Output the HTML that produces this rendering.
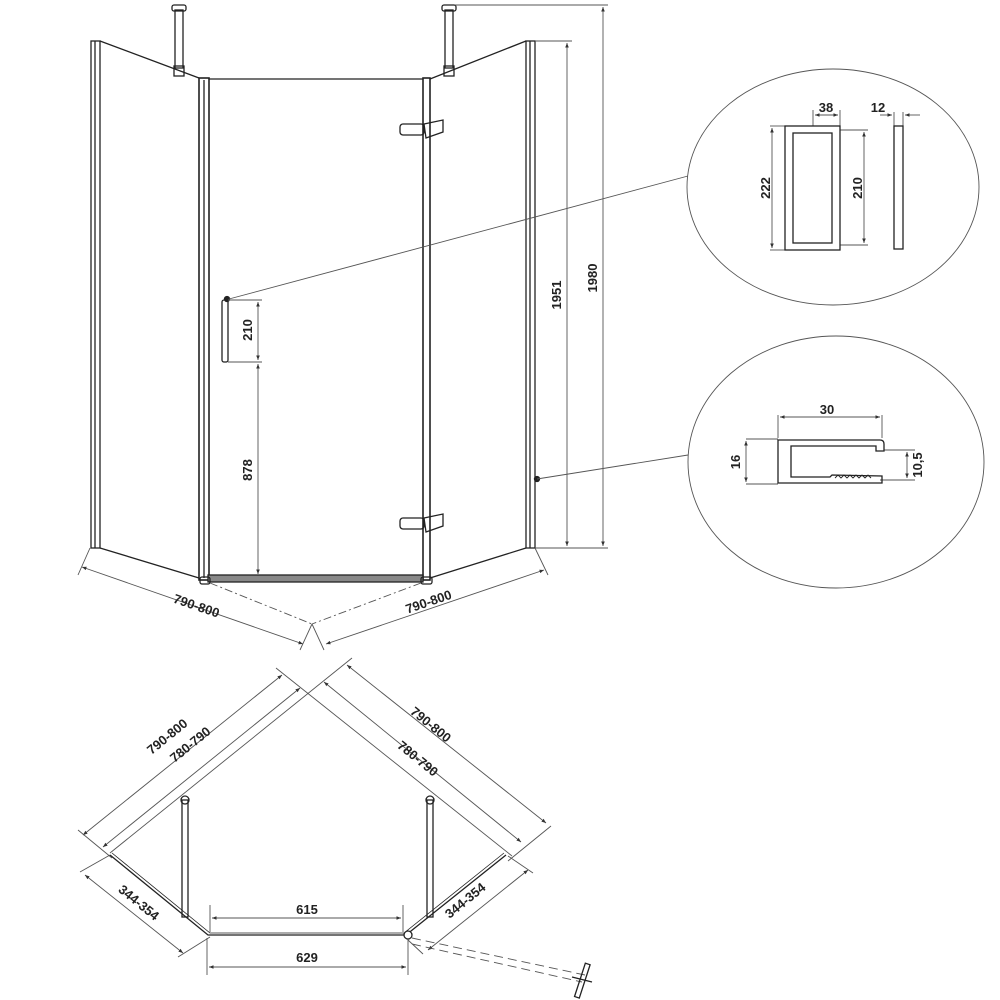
<!DOCTYPE html>
<html><head><meta charset="utf-8"><style>
html,body{margin:0;padding:0;background:#fff}
svg{display:block}
text{font-family:"Liberation Sans",sans-serif;font-weight:bold;fill:#222}
</style></head><body>
<svg width="1000" height="1000" viewBox="0 0 1000 1000" xmlns="http://www.w3.org/2000/svg">
<defs>
<marker id="a" markerWidth="6" markerHeight="6" refX="5" refY="3" orient="auto"><path d="M0,1 L5,3 L0,5 Z" fill="#333"/></marker>
<marker id="b" markerWidth="6" markerHeight="6" refX="1" refY="3" orient="auto"><path d="M6,1 L1,3 L6,5 Z" fill="#333"/></marker>
</defs>
<g stroke="#222" fill="none" stroke-width="1.3">
<!-- left panel -->
<rect x="91" y="41" width="9" height="507" />
<line x1="95" y1="41" x2="95" y2="548"/>
<line x1="100" y1="41" x2="199" y2="78"/>
<line x1="100" y1="548" x2="199" y2="578"/>
<!-- door -->
<rect x="199" y="78" width="10" height="502" stroke-width="1.6"/>
<line x1="204" y1="80" x2="204" y2="578"/>
<line x1="209" y1="79" x2="423" y2="79"/>
<rect x="423" y="78" width="7" height="502" stroke-width="1.6"/>
<rect x="208" y="575" width="215" height="7" fill="#888"/>
<rect x="200" y="577" width="10" height="7" rx="2"/>
<rect x="421" y="577" width="11" height="7" rx="2"/>
<!-- right panel -->
<line x1="430" y1="79" x2="526" y2="41"/>
<line x1="430" y1="578" x2="526" y2="548"/>
<rect x="526" y="41" width="9" height="507"/>
<line x1="530" y1="41" x2="530" y2="548"/>
<!-- brackets -->
<rect x="175" y="10" width="8" height="58"/><rect x="172" y="5" width="14" height="6" rx="2"/><rect x="174" y="66" width="10" height="10"/>
<rect x="445" y="10" width="8" height="58"/><rect x="442" y="5" width="14" height="6" rx="2"/><rect x="444" y="66" width="10" height="10"/>
<!-- hinges -->
<rect x="400" y="124" width="24" height="11" rx="3"/><path d="M424,124 L443,120 L443,132 L426,138 Z"/>
<rect x="400" y="518" width="24" height="11" rx="3"/><path d="M424,518 L443,514 L443,526 L426,532 Z"/>
<!-- handle -->
<rect x="222" y="300" width="6" height="62" rx="2"/>
<circle cx="227" cy="299" r="2.5" fill="#222"/>
<circle cx="537" cy="479" r="2.5" fill="#222"/>
</g>
<g stroke="#555" fill="none" stroke-width="0.9">
<line x1="228" y1="300" x2="262" y2="300"/><line x1="228" y1="362" x2="262" y2="362"/>
<line x1="258" y1="302" x2="258" y2="360" marker-start="url(#b)" marker-end="url(#a)"/>
<line x1="258" y1="364" x2="258" y2="574" marker-start="url(#b)" marker-end="url(#a)"/>
<line x1="535" y1="41" x2="572" y2="41"/><line x1="535" y1="548" x2="608" y2="548"/><line x1="455" y1="5" x2="608" y2="5"/>
<line x1="567" y1="43" x2="567" y2="546" marker-start="url(#b)" marker-end="url(#a)"/>
<line x1="603" y1="7" x2="603" y2="546" marker-start="url(#b)" marker-end="url(#a)"/>
<!-- leaders -->
<line x1="229" y1="299" x2="688" y2="176"/>
<line x1="537" y1="479" x2="688" y2="455"/>
<!-- bottom dims front -->
<line x1="82" y1="567" x2="303" y2="644" marker-start="url(#b)" marker-end="url(#a)"/>
<line x1="326" y1="644" x2="544" y2="570" marker-start="url(#b)" marker-end="url(#a)"/>
<line x1="90" y1="548" x2="78" y2="575"/><line x1="535" y1="548" x2="548" y2="575"/>
<line x1="312" y1="624" x2="300" y2="650"/><line x1="312" y1="624" x2="324" y2="650"/>
<line x1="210" y1="583" x2="312" y2="624" stroke-dasharray="8,3,2,3"/>
<line x1="421" y1="583" x2="312" y2="624" stroke-dasharray="8,3,2,3"/>
<!-- ellipses -->
<ellipse cx="833" cy="187" rx="146" ry="118"/>
<ellipse cx="836" cy="462" rx="148" ry="126"/>
<!-- handle detail -->
<line x1="770" y1="126" x2="785" y2="126"/><line x1="770" y1="250" x2="785" y2="250"/>
<line x1="772" y1="128" x2="772" y2="248" marker-start="url(#b)" marker-end="url(#a)"/>
<line x1="840" y1="130" x2="868" y2="130"/><line x1="840" y1="245" x2="868" y2="245"/>
<line x1="864" y1="132" x2="864" y2="243" marker-start="url(#b)" marker-end="url(#a)"/>
<line x1="813" y1="110" x2="813" y2="126"/><line x1="840" y1="110" x2="840" y2="126"/>
<line x1="815" y1="115" x2="838" y2="115" marker-start="url(#b)" marker-end="url(#a)"/>
<line x1="894" y1="112" x2="894" y2="126"/><line x1="903" y1="112" x2="903" y2="126"/>
<line x1="880" y1="115" x2="892" y2="115" marker-end="url(#a)"/><line x1="905" y1="115" x2="920" y2="115" marker-start="url(#b)"/>
<line x1="746" y1="439" x2="778" y2="439"/><line x1="746" y1="484" x2="778" y2="484"/>
<line x1="746" y1="441" x2="746" y2="482" marker-start="url(#b)" marker-end="url(#a)"/>
<line x1="778" y1="415" x2="778" y2="438"/><line x1="882" y1="415" x2="882" y2="438"/>
<line x1="780" y1="417" x2="880" y2="417" marker-start="url(#b)" marker-end="url(#a)"/>
<line x1="884" y1="450" x2="915" y2="450"/><line x1="880" y1="480" x2="915" y2="480"/>
<line x1="907" y1="452" x2="907" y2="478" marker-start="url(#b)" marker-end="url(#a)"/>
</g>
<g stroke="#222" fill="none" stroke-width="1.3">
<rect x="785" y="126" width="55" height="124"/>
<rect x="793" y="133" width="39" height="110"/>
<rect x="894" y="126" width="9" height="123"/>
<path d="M778,440 L880,440 Q884,440 884,444 L884,451 L876,451 L876,446 L791,446 L791,477 L830,477 L832,475 L882,476 L882,483 L778,483 Z"/>
<path d="M835,478 l3,-3 l3,3 l3,-3 l3,3 l3,-3 l3,3 l3,-3 l3,3 l3,-3 l3,3 l3,-3 l3,3" stroke-width="0.9"/>
</g>
<!-- plan view -->
<g stroke="#555" fill="none" stroke-width="0.9">
<line x1="83" y1="835" x2="282" y2="675" marker-start="url(#b)" marker-end="url(#a)"/>
<line x1="103" y1="847" x2="300" y2="688" marker-start="url(#b)" marker-end="url(#a)"/>
<line x1="110" y1="853" x2="352" y2="658"/>
<line x1="276" y1="668" x2="512" y2="856"/>
<line x1="347" y1="665" x2="546" y2="823" marker-start="url(#b)" marker-end="url(#a)"/>
<line x1="324" y1="682" x2="521" y2="842" marker-start="url(#b)" marker-end="url(#a)"/>
<line x1="78" y1="830" x2="112" y2="858"/><line x1="551" y1="826" x2="508" y2="861"/>
<line x1="85" y1="875" x2="183" y2="953" marker-start="url(#b)" marker-end="url(#a)"/>
<line x1="528" y1="870" x2="428" y2="950" marker-start="url(#b)" marker-end="url(#a)"/>
<line x1="80" y1="872" x2="110" y2="855"/><line x1="178" y1="957" x2="210" y2="937"/>
<line x1="533" y1="873" x2="508" y2="856"/><line x1="423" y1="954" x2="408" y2="940"/>
<line x1="210" y1="905" x2="210" y2="932"/><line x1="403" y1="905" x2="403" y2="932"/>
<line x1="212" y1="918" x2="401" y2="918" marker-start="url(#b)" marker-end="url(#a)"/>
<line x1="207" y1="938" x2="207" y2="975"/><line x1="408" y1="938" x2="408" y2="975"/>
<line x1="209" y1="967" x2="406" y2="967" marker-start="url(#b)" marker-end="url(#a)"/>
<line x1="412" y1="938" x2="585" y2="975" stroke-dasharray="9,5"/>
<line x1="412" y1="944" x2="582" y2="982" stroke-dasharray="9,5"/>
</g>
<g stroke="#222" fill="none" stroke-width="1.3">
<path d="M110,855 L208,935 L406,935 L506,855"/>
<path d="M112,853 L210,933 L404,933 L504,853" stroke-width="0.8"/>
<rect x="182" y="800" width="6" height="117"/><circle cx="185" cy="800" r="4"/>
<rect x="427" y="800" width="6" height="117"/><circle cx="430" cy="800" r="4"/>
<circle cx="408" cy="935" r="4" fill="#fff"/>
<rect x="580" y="963" width="5" height="35" transform="rotate(18 582 980)"/>
<line x1="572" y1="977" x2="592" y2="982"/>
</g>
<g font-size="13">
<text transform="translate(252,330) rotate(-90)" text-anchor="middle">210</text>
<text transform="translate(252,470) rotate(-90)" text-anchor="middle">878</text>
<text transform="translate(561,295) rotate(-90)" text-anchor="middle">1951</text>
<text transform="translate(597,278) rotate(-90)" text-anchor="middle">1980</text>
<text transform="translate(195,610) rotate(19)" text-anchor="middle">790-800</text>
<text transform="translate(430,606) rotate(-19)" text-anchor="middle">790-800</text>
<text x="826" y="112" text-anchor="middle">38</text>
<text x="878" y="112" text-anchor="middle">12</text>
<text transform="translate(770,188) rotate(-90)" text-anchor="middle">222</text>
<text transform="translate(862,188) rotate(-90)" text-anchor="middle">210</text>
<text x="827" y="414" text-anchor="middle">30</text>
<text transform="translate(740,462) rotate(-90)" text-anchor="middle">16</text>
<text transform="translate(922,465) rotate(-90)" text-anchor="middle">10,5</text>
<text transform="translate(170,740) rotate(-39)" text-anchor="middle">790-800</text>
<text transform="translate(193,748) rotate(-39)" text-anchor="middle">780-790</text>
<text transform="translate(428,728) rotate(39)" text-anchor="middle">790-800</text>
<text transform="translate(415,762) rotate(39)" text-anchor="middle">780-790</text>
<text transform="translate(136,906) rotate(39)" text-anchor="middle">344-354</text>
<text transform="translate(468,904) rotate(-39)" text-anchor="middle">344-354</text>
<text x="307" y="914" text-anchor="middle">615</text>
<text x="307" y="962" text-anchor="middle">629</text>
</g>
</svg>
</body></html>
